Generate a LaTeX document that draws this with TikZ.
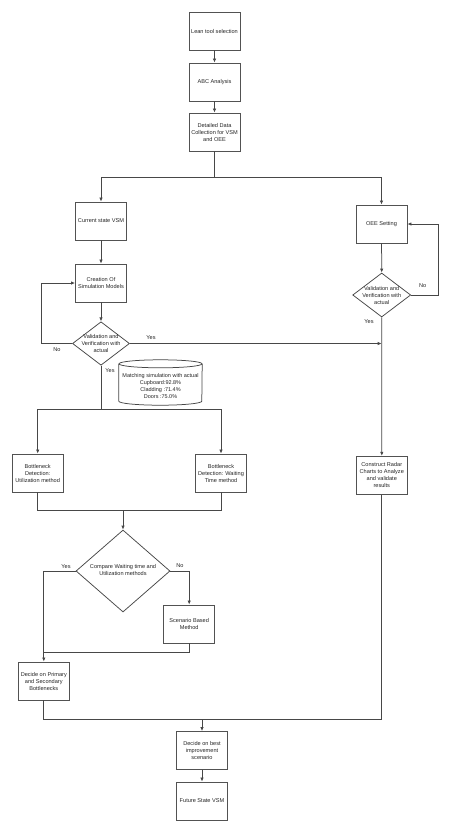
\documentclass[tikz,border=0pt]{standalone}
\usepackage{fontspec}
\setmainfont{Liberation Sans}
\usetikzlibrary{arrows.meta,shapes.geometric}
\begin{document}
\begin{tikzpicture}[x=1pt,y=-1pt,
  line/.style={draw=black!72, line width=0.75pt},
  arr/.style={line, -{Latex[length=4pt,width=3.4pt]}},
  txt/.style={font=\fontsize{5.6}{7}\selectfont, text=black!85, align=center, inner sep=0pt},
  box/.style={txt, draw=black!68, line width=0.85pt, minimum width=51pt, minimum height=38pt, inner sep=1pt},
  dia/.style={draw=black!72, line width=0.75pt, diamond, inner sep=0pt},
  lbl/.style={font=\fontsize{5.6}{7}\selectfont, text=black!85, inner sep=0pt}
]
\useasboundingbox[fill=white] (0,0) rectangle (474,833);

% main column
\node[box] (lean) at (214.5,31) {Lean tool selection};
\node[box] (abc) at (214.5,82) {ABC Analysis};
\node[box] (ddc) at (214.5,132) {Detailed Data\\Collection for VSM\\and OEE};

\node[box] (csv) at (101,221) {Current state VSM};
\node[box] (oee) at (381.5,224) {OEE Setting};
\node[box] (csm) at (101,283) {Creation Of\\Simulation Models};

\node[dia, minimum width=57pt, minimum height=43.5pt] (d1) at (101,343.5) {};
\node[txt] at (d1) {Validation and\\Verification with\\actual};
\node[dia, minimum width=58pt, minimum height=44pt] (d2) at (381.7,295) {};
\node[txt] at (d2) {Validation and\\Verification with\\actual};

% cylinder
\node[minimum width=83pt, minimum height=45pt, inner sep=0pt] (cyl) at (160.5,382.5) {};
\node[txt, font=\fontsize{5.5}{6.9}\selectfont] (cyltxt) at (160.5,386.3) {Matching simulation with actual\\Cupboard:92.8\%\\Cladding :71.4\%\\Doors :75.0\%};
\draw[line] ([yshift=-4pt]cyl.north) ellipse[x radius=41.5pt, y radius=4pt];
\draw[line] ([yshift=-4pt]cyl.north west) -- ([yshift=4pt]cyl.south west)
  arc[start angle=180, end angle=360, x radius=41.5pt, y radius=4pt]
  -- ([yshift=-4pt]cyl.north east);

\node[box] (bu) at (37.7,473) {Bottleneck\\Detection:\\Utilization method};
\node[box] (bw) at (221,473) {Bottleneck\\Detection: Waiting\\Time method};
\node[box] (rad) at (381.8,475.3) {Construct Radar\\Charts to Analyze\\and validate\\results};

\node[dia, minimum width=94pt, minimum height=82pt] (d3) at (123,571) {};
\node[txt] at (123,570) {Compare Waiting time and\\Utilization methods};

\node[box] (sc) at (189.2,624) {Scenario Based\\Method};
\node[box] (dp) at (43.8,681) {Decide on Primary\\and Secondary\\Bottlenecks};
\node[box] (db) at (202,750.5) {Decide on best\\improvement\\scenario};
\node[box] (fs) at (202,801) {Future State VSM};

% connectors
\draw[arr] (lean) -- (abc);
\draw[arr] (abc) -- (ddc);
\coordinate (j1) at (214.5,177);
\draw[line] (ddc.south) -- (j1);
\draw[arr] (j1) -| (csv.north);
\draw[arr] (j1) -| (oee.north);
\draw[arr] (csv) -- (csm);
\draw[arr] (csm) -- (d1.north);
\draw[arr] (d1.west) -- (41,343.5) |- (csm.west);
\node[lbl] at (57,349.5) {No};
\coordinate (m) at (381.7,344.5);
\draw[arr] (d1.east) -- (d1.east -| m);
\node[lbl] at (151,338) {Yes};

\draw[arr] (oee) -- (d2.north);
\draw[arr] (d2.east) -- (438.7,295) |- (oee.east);
\node[lbl] at (422.7,286) {No};
\node[lbl] at (369,321.7) {Yes};
\draw[arr] (d2.south) -- (rad.north);

\coordinate (j2) at (101,409.3);
\draw[line] (d1.south) -- (j2);
\draw[arr] (j2) -| (bu.north);
\draw[arr] (j2) -| (bw.north);
\node[lbl] at (110,371) {Yes};

\coordinate (j3) at (123,510.3);
\draw[line] (bu.south) |- (j3);
\draw[line] (bw.south) |- (j3);
\draw[arr] (j3) -- (d3.north);

\draw[arr] (d3.west) -| (dp.north);
\node[lbl] at (66,566.7) {Yes};
\draw[arr] (d3.east) -| (sc.north);
\node[lbl] at (180,565.7) {No};
\draw[line] (sc.south) |- (dp.north |- 0,652.7);

\coordinate (j4) at (202,719);
\draw[line] (dp.south) |- (j4);
\draw[line] (rad.south) |- (j4);
\draw[arr] (j4) -- (db.north);
\draw[arr] (db) -- (fs);
\end{tikzpicture}
\end{document}
